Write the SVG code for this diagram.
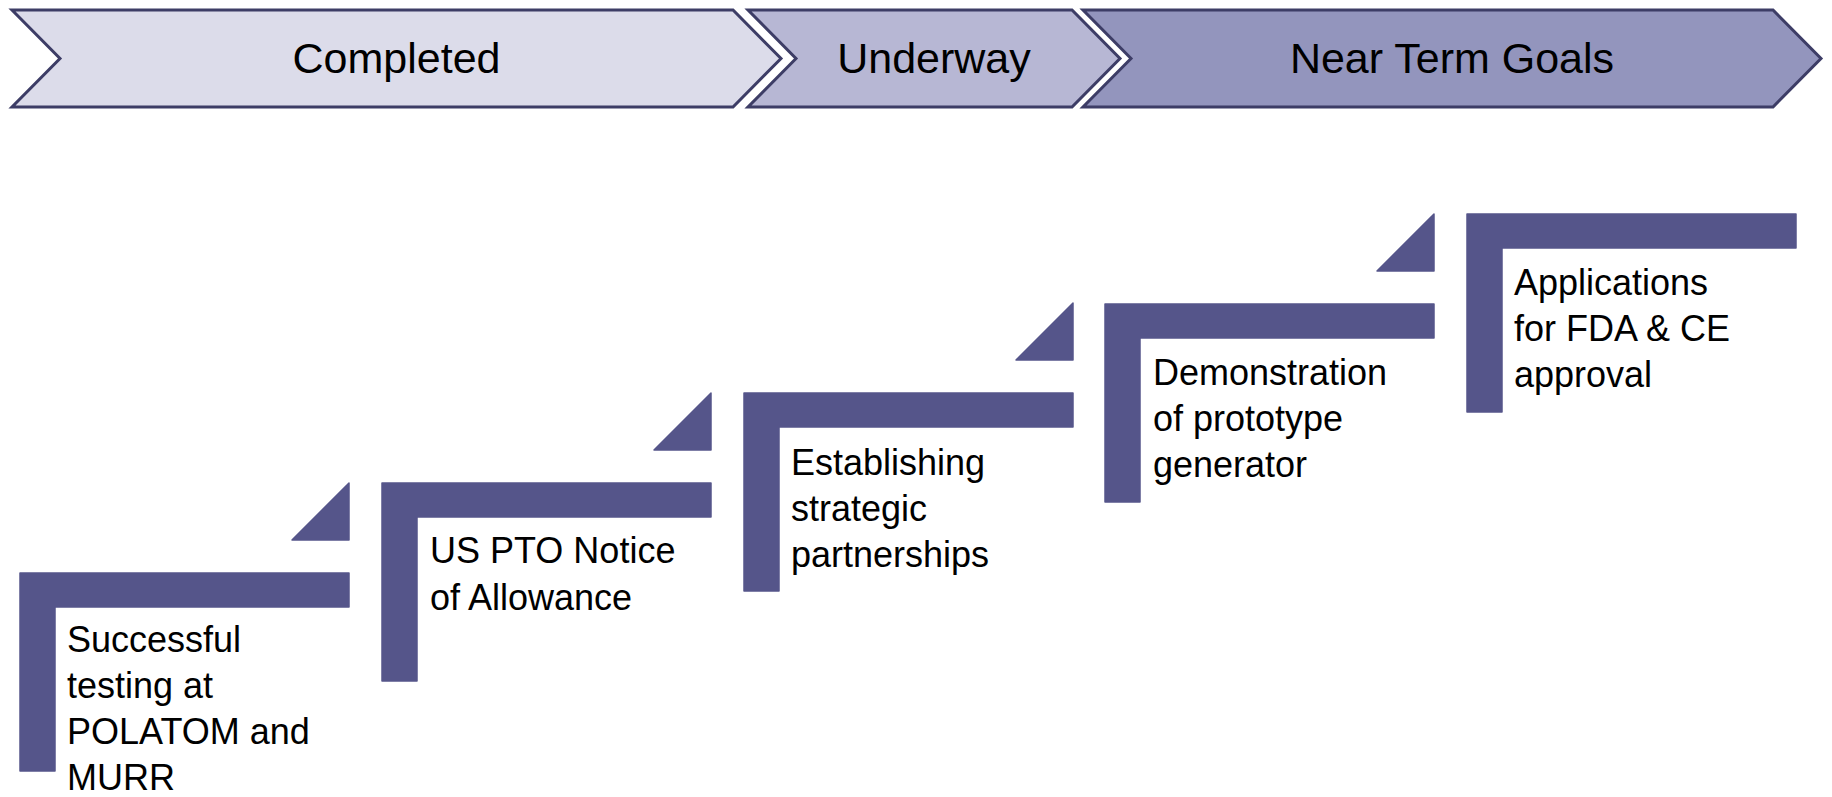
<svg xmlns="http://www.w3.org/2000/svg" xmlns:xlink="http://www.w3.org/1999/xlink" width="1832" height="797" viewBox="0 0 1832 797">
  <style>
    .chev { stroke: #3d3d66; stroke-width: 3; stroke-linejoin: miter; }
    .c1 { fill: #dcdcea; }
    .c2 { fill: #b7b7d4; }
    .c3 { fill: #9395bd; }
    .head { font-family: "Liberation Sans", Arial, sans-serif; font-size: 43px; fill: #000; text-anchor: middle; }
    .bar { fill: #55558a; stroke: #55558a; stroke-width: 1.5; stroke-linejoin: round; }
    .label { font-family: "Liberation Sans", Arial, sans-serif; font-size: 36px; fill: #000; }
  </style>
  <defs>
    <path id="ell" d="M1,1 H330 V35 H36 V199 H1 Z"/>
    <path id="tri" d="M330,-89 V-32 H273 Z"/>
  </defs>
  <rect width="1832" height="797" fill="#ffffff"/>

  <g id="phase-completed">
    <path class="chev c1" d="M12,10 H733 L781,58.5 L733,107 H12 L60,58.5 Z"/>
    <text class="head" x="396.5" y="73">Completed</text>
  </g>
  <g id="phase-underway">
    <path class="chev c2" d="M748,10 H1072 L1120,58.5 L1072,107 H748 L796,58.5 Z"/>
    <text class="head" x="934" y="73">Underway</text>
  </g>
  <g id="phase-near-term">
    <path class="chev c3" d="M1083,10 H1773 L1821,58.5 L1773,107 H1083 L1131,58.5 Z"/>
    <text class="head" x="1452" y="73">Near Term Goals</text>
  </g>

  <g id="step1" transform="translate(19,572)">
    <use xlink:href="#ell" class="bar"/>
    <text class="label" x="48" y="80">Successful</text>
    <text class="label" x="48" y="126">testing at</text>
    <text class="label" x="48" y="172">POLATOM and</text>
    <text class="label" x="48" y="218">MURR</text>
  </g>
  <g id="step2" transform="translate(381,482)">
    <use xlink:href="#ell" class="bar"/>
    <text class="label" x="49" y="81">US PTO Notice</text>
    <text class="label" x="49" y="128">of Allowance</text>
  </g>
  <g id="step3" transform="translate(743,392)">
    <use xlink:href="#ell" class="bar"/>
    <text class="label" x="48" y="83">Establishing</text>
    <text class="label" x="48" y="129">strategic</text>
    <text class="label" x="48" y="175">partnerships</text>
  </g>
  <g id="step4" transform="translate(1104,303)">
    <use xlink:href="#ell" class="bar"/>
    <text class="label" x="49" y="82">Demonstration</text>
    <text class="label" x="49" y="128">of prototype</text>
    <text class="label" x="49" y="174">generator</text>
  </g>
  <g id="step5" transform="translate(1466,213)">
    <use xlink:href="#ell" class="bar"/>
    <text class="label" x="48" y="82">Applications</text>
    <text class="label" x="48" y="128">for FDA &amp; CE</text>
    <text class="label" x="48" y="174">approval</text>
  </g>

  <g id="connectors">
    <use xlink:href="#tri" class="bar" transform="translate(19,572)"/>
    <use xlink:href="#tri" class="bar" transform="translate(381,482)"/>
    <use xlink:href="#tri" class="bar" transform="translate(743,392)"/>
    <use xlink:href="#tri" class="bar" transform="translate(1104,303)"/>
  </g>
</svg>
